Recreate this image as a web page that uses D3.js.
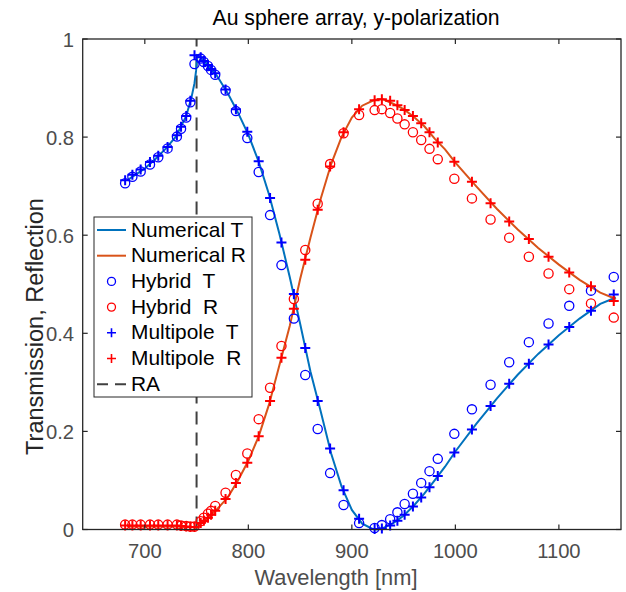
<!DOCTYPE html>
<html><head><meta charset="utf-8">
<script src="https://cdn.jsdelivr.net/npm/d3@7"></script>
<style>body{margin:0;background:#fff}svg{display:block}</style>
</head><body>
<svg id="c" width="626" height="592"></svg>
<script>
// ---- data ----
const lamN = [683,690,700,710,720,730,740,745,748,749.5,750.5,752,756,760,770,780,790,800,810,820,830,840,850,860,870,880,890,900,910,920,925,930,940,950,960,970,980,990,1000,1020,1040,1060,1080,1100,1120,1140,1155];
const numT = [0.712,0.722,0.736,0.755,0.776,0.801,0.843,0.880,0.910,0.935,0.967,0.966,0.958,0.949,0.924,0.890,0.850,0.805,0.750,0.683,0.603,0.515,0.420,0.322,0.240,0.155,0.088,0.040,0.012,0.001,0.0,0.003,0.013,0.028,0.049,0.073,0.100,0.128,0.159,0.215,0.267,0.315,0.358,0.396,0.430,0.460,0.473];
const numR = [0.006,0.006,0.006,0.006,0.006,0.006,0.005,0.005,0.005,0.004,0.004,0.008,0.015,0.022,0.042,0.065,0.100,0.140,0.190,0.255,0.335,0.415,0.510,0.595,0.675,0.745,0.800,0.840,0.864,0.874,0.877,0.877,0.868,0.857,0.841,0.822,0.797,0.775,0.748,0.700,0.654,0.612,0.574,0.540,0.509,0.483,0.470];

const lam = [681,688,696,705,713,722,731,735,740,744,748,754,757,761,764,768,778,788,799,810,821,832,844,855,867,879,892,907,922,929,937,944,951,959,967,975,983,999,1016,1034,1052,1071,1090,1110,1131,1153];
const hybridT = [0.706,0.719,0.730,0.744,0.759,0.777,0.801,0.817,0.840,0.871,0.949,0.960,0.953,0.945,0.937,0.927,0.895,0.853,0.798,0.729,0.641,0.539,0.430,0.315,0.205,0.115,0.050,0.013,0.003,0.009,0.021,0.035,0.052,0.073,0.095,0.119,0.144,0.195,0.245,0.295,0.341,0.382,0.420,0.456,0.487,0.515];
const hybridR = [0.010,0.010,0.010,0.010,0.010,0.010,0.010,0.008,0.007,0.006,0.006,0.017,0.024,0.032,0.038,0.048,0.075,0.111,0.155,0.225,0.289,0.374,0.470,0.570,0.664,0.745,0.808,0.845,0.855,0.857,0.849,0.838,0.826,0.810,0.794,0.776,0.755,0.715,0.675,0.632,0.595,0.556,0.522,0.490,0.461,0.432];
const multiT = [0.712,0.723,0.734,0.749,0.762,0.780,0.804,0.821,0.843,0.874,0.967,0.963,0.955,0.947,0.939,0.930,0.897,0.857,0.811,0.751,0.676,0.585,0.480,0.370,0.262,0.165,0.080,0.022,0.001,0.002,0.008,0.018,0.030,0.047,0.065,0.086,0.109,0.157,0.204,0.252,0.297,0.338,0.377,0.413,0.446,0.479];
const multiR = [0.008,0.008,0.008,0.008,0.008,0.008,0.008,0.007,0.006,0.005,0.005,0.013,0.018,0.024,0.030,0.038,0.062,0.095,0.136,0.190,0.262,0.350,0.450,0.550,0.652,0.740,0.810,0.857,0.875,0.877,0.874,0.865,0.855,0.843,0.828,0.810,0.789,0.750,0.709,0.665,0.628,0.592,0.556,0.524,0.496,0.466];
const raLambda = 750;

const xTicks = [700,800,900,1000,1100];
const yTicks = [0,0.2,0.4,0.6,0.8,1];
const yTickLabels = ["0","0.2","0.4","0.6","0.8","1"];
const legendLabels = ["Numerical T","Numerical R","Hybrid  T","Hybrid  R","Multipole  T","Multipole  R","RA"];

// ---- chart ----
const FONT = "'Liberation Sans', Arial, sans-serif";
const svg = d3.select("#c");
const L = 82.7, R = 621, T = 39, B = 529.5;
const x = d3.scaleLinear().domain([640,1160]).range([L,R]);
const y = d3.scaleLinear().domain([0,1]).range([B,T]);
const axCol = "#262626";
const txtCol = "#4d4d4d";

// measure helper: font size giving a target width
function fitSize(text, target, base){
  const t = svg.append("text").attr("font-family",FONT).attr("font-size",base).style("white-space","pre").text(text);
  const w = t.node().getComputedTextLength(); t.remove();
  return base*target/w;
}
const tickFS = fitSize("1000",45,20);
const xlabFS = fitSize("Wavelength [nm]",163,20);
const ylabFS = fitSize("Transmission, Reflection",257,20);
const titleFS = fitSize("Au sphere array, y-polarization",287,16);
const legFS = fitSize("Numerical R",115,20);

const plot = svg.append("g");

// RA
plot.append("line").attr("x1",x(raLambda)).attr("x2",x(raLambda)).attr("y1",y(0)).attr("y2",y(1))
  .attr("stroke","#404040").attr("stroke-width",2).attr("stroke-dasharray","13,8");

const line = (arr) => d3.line().x((d,i)=>x(lamN[i])).y(d=>y(d))(arr);
plot.append("path").attr("d",line(numT)).attr("fill","none").attr("stroke","#0072BD").attr("stroke-width",2);
plot.append("path").attr("d",line(numR)).attr("fill","none").attr("stroke","#D95319").attr("stroke-width",2);

function circles(vals, col){
  plot.append("g").selectAll("circle").data(vals).join("circle")
    .attr("cx",(d,i)=>x(lam[i])).attr("cy",d=>y(d)).attr("r",4.6)
    .attr("fill","none").attr("stroke",col).attr("stroke-width",1.3);
}
function plusses(vals, col){
  const s = 5;
  plot.append("g").selectAll("path").data(vals).join("path")
    .attr("d",(d,i)=>{const cx=x(lam[i]), cy=y(d); return `M${cx-s},${cy}H${cx+s}M${cx},${cy-s}V${cy+s}`;})
    .attr("fill","none").attr("stroke",col).attr("stroke-width",2);
}
circles(hybridT,"#0000FF");
circles(hybridR,"#FF0000");
plusses(multiT,"#0000FF");
plusses(multiR,"#FF0000");

// axes box & ticks
const ax = svg.append("g");
ax.append("rect").attr("x",L).attr("y",T).attr("width",R-L).attr("height",B-T)
  .attr("fill","none").attr("stroke",axCol).attr("stroke-width",1.3);
const tl = 5;
xTicks.forEach(v=>{
  ax.append("line").attr("x1",x(v)).attr("x2",x(v)).attr("y1",B).attr("y2",B-tl).attr("stroke",axCol).attr("stroke-width",1.2);
  ax.append("line").attr("x1",x(v)).attr("x2",x(v)).attr("y1",T).attr("y2",T+tl).attr("stroke",axCol).attr("stroke-width",1.2);
  ax.append("text").attr("x",x(v)).attr("y",557.5).attr("text-anchor","middle").attr("font-family",FONT)
    .attr("font-size",tickFS).attr("fill",txtCol).text(v);
});
yTicks.forEach((v,i)=>{
  ax.append("line").attr("x1",L).attr("x2",L+tl).attr("y1",y(v)).attr("y2",y(v)).attr("stroke",axCol).attr("stroke-width",1.2);
  ax.append("line").attr("x1",R).attr("x2",R-tl).attr("y1",y(v)).attr("y2",y(v)).attr("stroke",axCol).attr("stroke-width",1.2);
  ax.append("text").attr("x",74).attr("y",y(v)+7.5).attr("text-anchor","end").attr("font-family",FONT)
    .attr("font-size",tickFS).attr("fill",txtCol).text(yTickLabels[i]);
});
svg.append("text").attr("x",336).attr("y",585).attr("text-anchor","middle").attr("font-family",FONT)
  .attr("font-size",xlabFS).attr("fill",txtCol).text("Wavelength [nm]");
svg.append("text").attr("transform",`translate(43,326.5) rotate(-90)`).attr("text-anchor","middle")
  .attr("font-family",FONT).attr("font-size",ylabFS).attr("fill","#262626").text("Transmission, Reflection");
svg.append("text").attr("x",356).attr("y",25).attr("text-anchor","middle").attr("font-family",FONT)
  .attr("font-size",titleFS).attr("fill","#000").text("Au sphere array, y-polarization");

// legend
const lg = svg.append("g");
lg.append("rect").attr("x",94).attr("y",217).attr("width",158).attr("height",180)
  .attr("fill","#fff").attr("stroke",axCol).attr("stroke-width",1);
const rowY = i => 230 + i*25.7;
const types = [
  {t:"line",c:"#0072BD"},{t:"line",c:"#D95319"},
  {t:"circ",c:"#0000FF"},{t:"circ",c:"#FF0000"},
  {t:"plus",c:"#0000FF"},{t:"plus",c:"#FF0000"},
  {t:"dash",c:"#404040"}];
types.forEach((tp,i)=>{
  const yy = rowY(i);
  if(tp.t==="line") lg.append("line").attr("x1",97).attr("x2",126).attr("y1",yy).attr("y2",yy).attr("stroke",tp.c).attr("stroke-width",2);
  if(tp.t==="dash") lg.append("line").attr("x1",97).attr("x2",126).attr("y1",yy).attr("y2",yy).attr("stroke",tp.c).attr("stroke-width",2).attr("stroke-dasharray","11,7");
  if(tp.t==="circ") lg.append("circle").attr("cx",111.5).attr("cy",yy).attr("r",4).attr("fill","none").attr("stroke",tp.c).attr("stroke-width",1.3);
  if(tp.t==="plus") lg.append("path").attr("d",`M${107},${yy}H${116}M${111.5},${yy-4.5}V${yy+4.5}`).attr("stroke",tp.c).attr("stroke-width",1.6);
  lg.append("text").attr("x",131).attr("y",yy+6.5).attr("font-family",FONT).attr("font-size",legFS)
    .style("white-space","pre").attr("fill","#000").text(legendLabels[i]);
});
</script>
</body></html>
